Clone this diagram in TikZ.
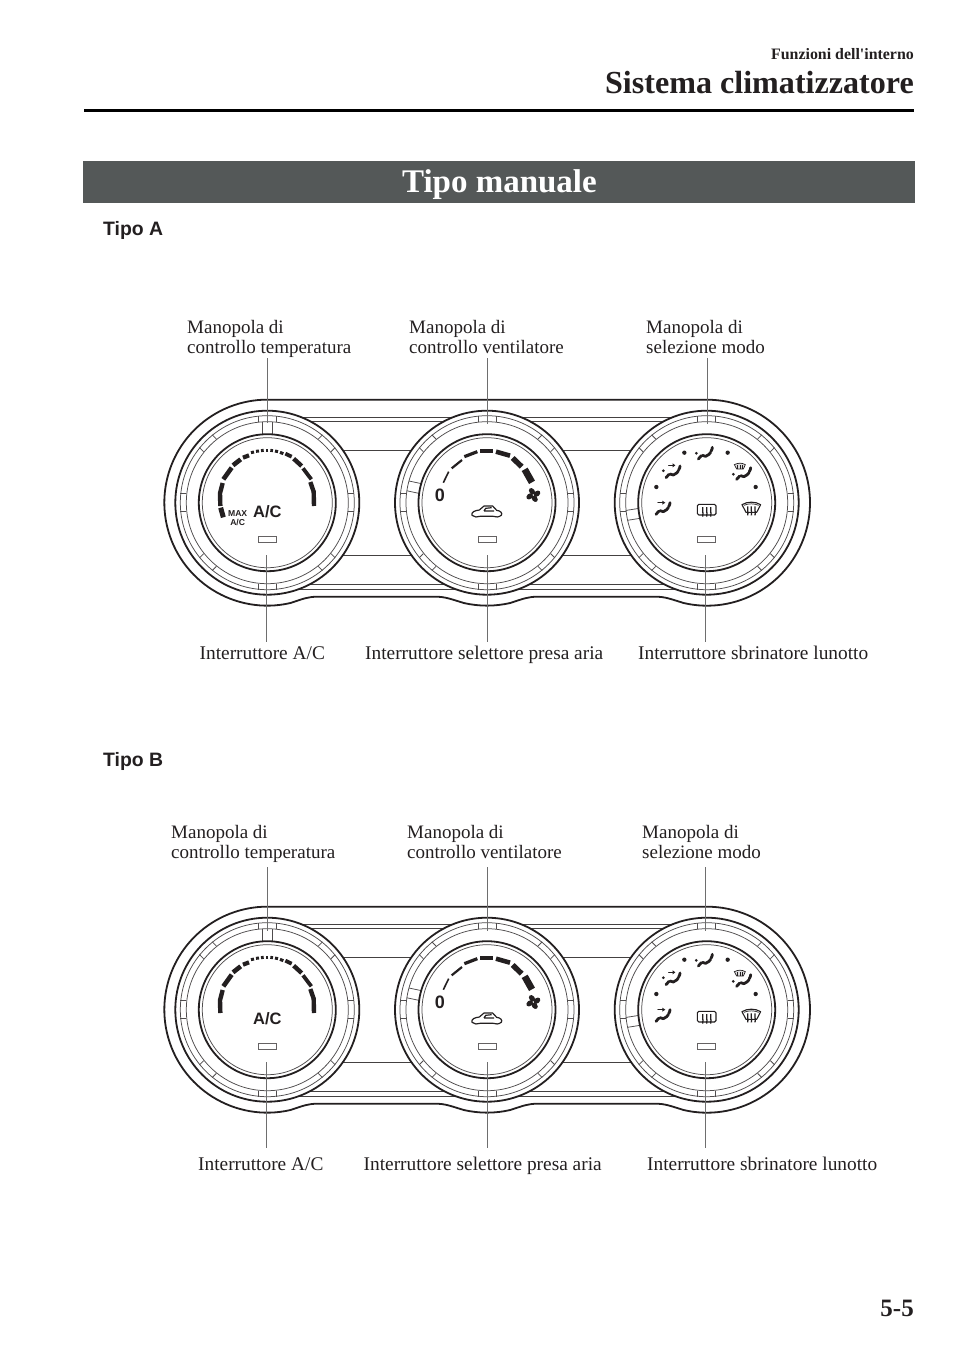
\documentclass[tikz,border=0pt]{standalone}
\usepackage{fontspec}
\setmainfont{Liberation Serif}
\setsansfont{Liberation Sans}
\newfontfamily\plainserif{Liberation Serif}
\definecolor{ink}{HTML}{231F20}
\definecolor{banner}{HTML}{545858}
\definecolor{leadgray}{HTML}{6E6E6E}
\tikzset{
  bigline/.style={draw=ink,line width=1.8pt},
  midline/.style={draw=ink!85,line width=1pt},
  thinline/.style={draw=ink!80,line width=.75pt},
  leader/.style={draw=leadgray,line width=.7pt},
  seg/.style={draw=ink,line cap=butt,line join=round},
  squig/.style={draw=ink,line width=2.8pt,line join=round,line cap=round},
  lab/.style={anchor=north west,inner sep=0pt,align=left,text=ink,font=\fontsize{19}{20.5}\selectfont},
  lab1/.style={anchor=base west,inner sep=0pt,text=ink,font=\fontsize{19.35}{21}\selectfont},
  zoomA/.style={x=.33333pt,y=-.33333pt},
}
% one knob: centre x, lever angle
\newcommand{\knobat}[2]{%
\begin{scope}[shift={(#1,-502.7)}]
  \fill[white] (0,0) circle[radius=92];
  \draw[bigline] (0,0) circle[radius=92];
  \draw[thinline] (0,0) circle[radius=87];
  \draw[thinline] (0,0) circle[radius=81];
  \foreach \a in {0,45,90,135,180,225,270,315}{
    \begin{scope}[rotate=\a]
      \draw[thinline] (81,-9) -- (87,-9) (81,9) -- (87,9);
    \end{scope}}
  \begin{scope}[rotate=#2]
    \draw[thinline] (68,-5) -- (81,-5) (68,5) -- (81,5);
  \end{scope}
  \draw[bigline] (0,0) circle[radius=68.5];
  \draw[thinline] (0,0) circle[radius=65];
  \draw[midline,draw=ink!70] (-9,-33.9) rectangle (9,-39.3);
\end{scope}}
\newcommand{\ventsquig}[2]{% base point in zoom px
  \draw[squig] (#1,#2) -- ++(9,-10) ++(3,-1) -- ++(10,3) -- ++(10,-6) -- ++(5,-6) ++(1,-3) -- ++(3,-6) -- ++(1,-6);}
% complete control panel, drawn at Tipo A position
\newcommand{\panelbody}[2]{%
  \draw[bigline,fill=white]
    (267,-399.7) -- (707,-399.7)
    arc[start angle=90,end angle=-103,radius=103]
    .. controls (669,-598.5) and (665,-596.7) .. (655,-596.7) -- (538,-596.7)
    .. controls (528,-596.7) and (524,-598.5) .. (510.2,-603)
    arc[start angle=-77,end angle=-103,radius=103]
    .. controls (449,-598.5) and (445,-596.7) .. (435,-596.7) -- (318,-596.7)
    .. controls (308,-596.7) and (304,-598.5) .. (290.5,-603)
    arc[start angle=-77,end angle=-270,radius=103] -- cycle;
  \foreach \yy in {417.3,421.7,450,555,584,589}
    \draw[midline] (270,-\yy) -- (700,-\yy);
  \knobat{267.3}{90}
  \knobat{487}{168}
  \knobat{706.7}{189}
  % left scale
  \begin{scope}[shift={(150,-390)},zoomA]
    \foreach \w/\p in {
      4.4/{(492,348)--(491,305)--(481,276)},
      3.8/{(484,268)--(459,235)},
      4.4/{(455,228)--(431,206)},
      3.8/{(425,200)--(406,191)},
      3/{(400,191)--(390,187)},3/{(384,185)--(375,183)},3/{(369,182)--(361,181)},
      3/{(355,181)--(347,181)},3/{(341,181)--(333,182)},3/{(327,183)--(318,184)},3/{(312,186)--(303,188)},
      4.2/{(297,196)--(279,203)},
      4.6/{(272,208)--(249,226)},
      4.6/{(245,233)--(220,268)},
      4.4/{(218,279)--(210,310)--(211,348)}}
      \draw[seg,line width=\w pt] \p;
    #2
  \end{scope}
  \node[inner sep=0pt,text=ink,font=\sffamily\bfseries\fontsize{16.5}{16.5}\selectfont] (#1ac) at (267.3,-511.7) {A/C};
  % centre scale
  \begin{scope}[shift={(420,-440)},zoomA]
    \foreach \w/\p in {
      1.6/{(70,128)--(86,95)},
      2.2/{(95,85)--(126,60)},
      3.2/{(133,50)--(172,35)},
      4.2/{(180,33)--(220,33)},
      4.6/{(228,35)--(270,47)},
      5.4/{(278,54)--(305,80)},
      6.8/{(314,88)--(336,127)}}
      \draw[seg,line width=\w pt] \p;
    % fan
    \foreach \a in {40,130,220,310}
      \fill[ink,rotate around={\a:(340,165)}] (351,169) ellipse[x radius=11,y radius=8];
    \fill[white] (340,165) circle[radius=1.5];
    % car
    \draw[draw=ink,line width=1.2pt,line join=round] (156,226) .. controls (153,215) and (165,212) .. (178,210) -- (192,198) -- (218,198) -- (230,211) .. controls (242,212) and (248,220) .. (244,226) .. controls (235,232) and (228,232) .. (220,229) -- (180,229) .. controls (172,233) and (163,231) .. (156,226) -- cycle;
    \draw[draw=ink,line width=1.2pt,line join=round] (192,213) -- (197,205) -- (215,203) (192,213) -- (222,213);
  \end{scope}
  \node[inner sep=0pt,text=ink,font=\sffamily\bfseries\fontsize{18}{18}\selectfont] (#1zero) at (440,-495) {0};
  % right icons
  \begin{scope}[shift={(630,-435)},zoomA]
    \foreach \dx/\dy in {163/53,293/53,79/156,377/156}
      \fill[ink] (\dx,\dy) circle[radius=6.5];
    \ventsquig{205}{72}
    \fill[ink] (199,55) circle[radius=4.5];
    \ventsquig{108}{128}
    \fill[ink] (100,107) circle[radius=4.5];
    \draw[squig,line width=1.3pt] (116,91) -- (130,91);
    \fill[ink] (136,91) -- (128,85) -- (128,97) -- cycle;
    \ventsquig{78}{238}
    \draw[squig,line width=1.3pt] (84,203) -- (98,203);
    \fill[ink] (106,203) -- (97,197) -- (97,209) -- cycle;
    \ventsquig{320}{133}
    \fill[ink] (310,118) circle[radius=4.5];
    % small windscreen
    \draw[draw=ink,line width=.7pt,fill=ink!15] (313,89) .. controls (325,83) and (335,83) .. (346,89) -- (340,102) -- (320,102) -- cycle;
    \foreach \xx in {323,330,337}\draw[draw=ink,line width=.7pt] (\xx,90) -- (\xx,101);
    % rear defrost
    \draw[draw=ink,line width=1.1pt,rounded corners=1.5pt] (202,208) rectangle (258,240);
    \foreach \xx in {218,230,242}
      \draw[draw=ink,line width=1.3pt] (\xx,216) .. controls (\xx-3,224) and (\xx+3,230) .. (\xx,245);
    % front defrost
    \draw[draw=ink,line width=1.1pt,line join=round] (336,209) .. controls (352,199) and (376,199) .. (392,209) -- (380,232) -- (348,232) -- cycle;
    \draw[draw=ink,line width=.7pt] (342,211) .. controls (355,205) and (373,205) .. (386,211);
    \foreach \xx in {353,364,375}
      \draw[draw=ink,line width=1.3pt] (\xx,214) .. controls (\xx-3,222) and (\xx+3,230) .. (\xx,241);
  \end{scope}
}
\begin{document}
\begin{tikzpicture}[x=1pt,y=1pt]
\useasboundingbox (0,0) rectangle (960,-1360);
\fill[white] (0,0) rectangle (960,-1360);
% page head
\node[anchor=base east,inner sep=0pt,text=ink,font=\plainserif\bfseries\fontsize{15.9}{18}\selectfont] (chapter) at (914,-59) {Funzioni dell'interno};
\node[anchor=base east,inner sep=0pt,text=ink,font=\bfseries\fontsize{32.1}{34}\selectfont] (section) at (914,-93.5) {Sistema climatizzatore};
\fill[black] (84,-108.6) rectangle (914,-112);
\fill[banner] (83,-161) rectangle (915,-203.3);
\node[inner sep=0pt,text=white,font=\bfseries\fontsize{33}{36}\selectfont,anchor=base] (title) at (499.5,-192) {Tipo manuale};
\node[anchor=base west,inner sep=0pt,text=ink,font=\sffamily\bfseries\fontsize{19.4}{20}\selectfont] (tipoa) at (103,-235.5) {Tipo A};
\node[anchor=base west,inner sep=0pt,text=ink,font=\sffamily\bfseries\fontsize{19.4}{20}\selectfont] (tipob) at (103,-766.5) {Tipo B};
\node[anchor=base east,inner sep=0pt,text=ink,font=\bfseries\fontsize{25}{28}\selectfont] (pageno) at (914,-1316) {5-5};
% Tipo A
\panelbody{a}{
  \draw[seg,line width=5pt] (212,353) -- (220,382);
  \node[inner sep=0pt,text=ink,font=\sffamily\bfseries\fontsize{8.6}{8.6}\selectfont] (amax) at (263,370) {MAX};
  \node[inner sep=0pt,text=ink,font=\sffamily\bfseries\fontsize{8.6}{8.6}\selectfont] (asmall) at (263,398) {A/C};
}
\node[lab] (l1) at (187,-320) {Manopola di\\controllo temperatura};
\node[lab] (l2) at (409,-320) {Manopola di\\controllo ventilatore};
\node[lab] (l3) at (646,-320) {Manopola di\\selezione modo};
\node[lab1] (l4) at (199.5,-659) {Interruttore A/C};
\node[lab1] (l5) at (365,-659) {Interruttore selettore presa aria};
\node[lab1] (l6) at (638,-659) {Interruttore sbrinatore lunotto};
\foreach \n/\xa/\ya/\yb in {ta/267.7/358/423,tb/487.3/358/424,tc/707/358/424,ba/266/555/642,bb/487.3/555/642,bc/705/555/642}{
  \coordinate (\n1) at (\xa,-\ya);
  \coordinate (\n2) at (\xa,-\yb);
  \draw[leader] (\n1) -- (\n2);
}
% Tipo B
\begin{scope}[yshift=-507pt]
\panelbody{b}{}
\end{scope}
\node[lab] (m1) at (171,-825) {Manopola di\\controllo temperatura};
\node[lab] (m2) at (407,-825) {Manopola di\\controllo ventilatore};
\node[lab] (m3) at (642,-825) {Manopola di\\selezione modo};
\node[lab1] (m4) at (198,-1170) {Interruttore A/C};
\node[lab1] (m5) at (363.5,-1170) {Interruttore selettore presa aria};
\node[lab1] (m6) at (647,-1170) {Interruttore sbrinatore lunotto};
\foreach \n/\xa/\ya/\yb in {ua/267.7/867/931,ub/487.3/867/931,uc/705.3/867/931,va/266/1062/1148,vb/487.3/1062/1148,vc/705/1062/1148}{
  \coordinate (\n1) at (\xa,-\ya);
  \coordinate (\n2) at (\xa,-\yb);
  \draw[leader] (\n1) -- (\n2);
}
\end{tikzpicture}
\end{document}
